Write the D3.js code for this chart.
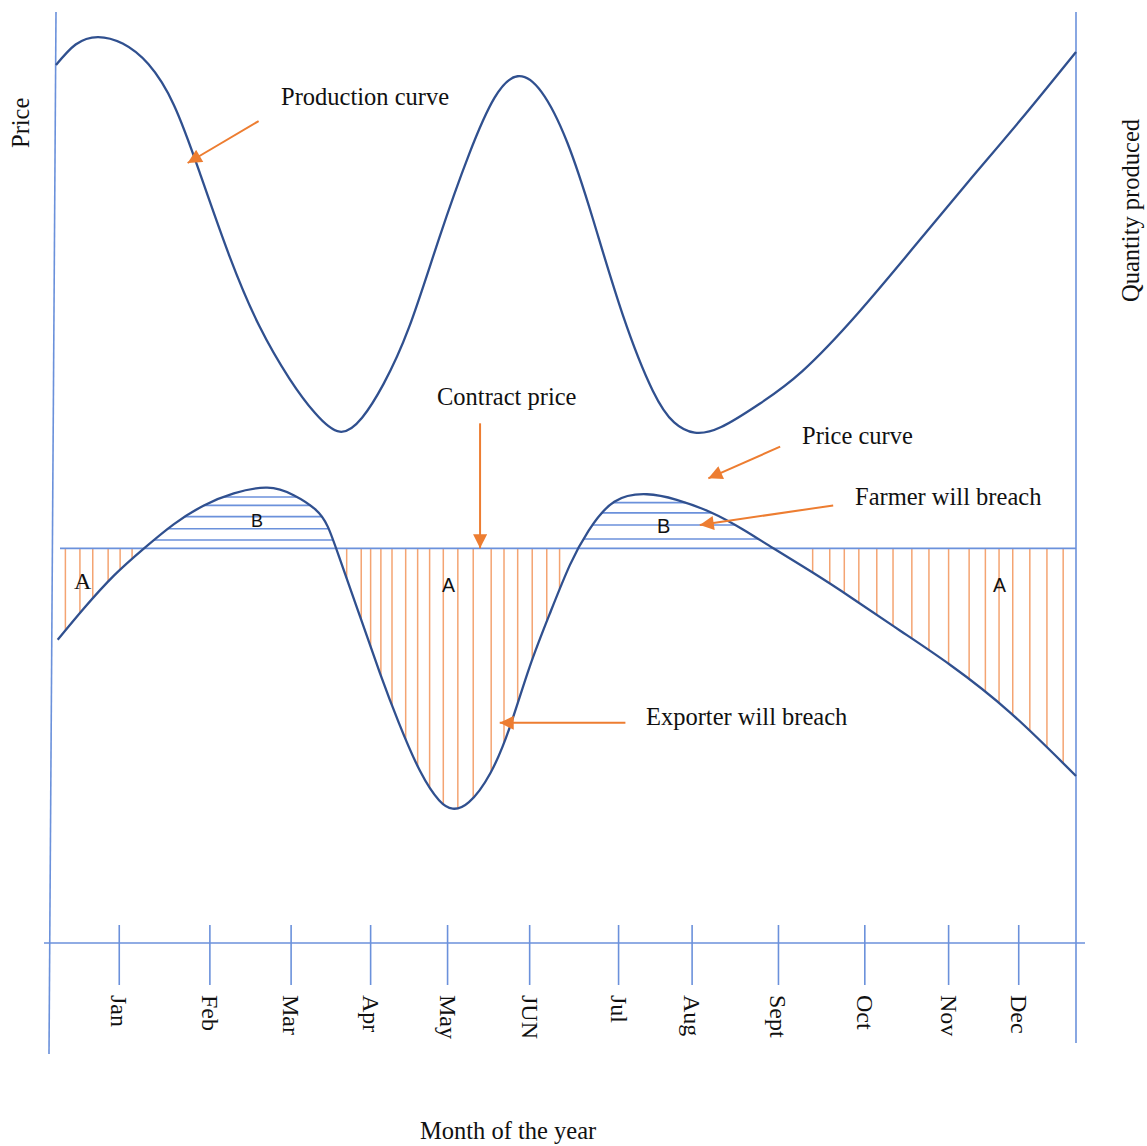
<!DOCTYPE html>
<html>
<head>
<meta charset="utf-8">
<script src="https://cdn.jsdelivr.net/npm/d3@7/dist/d3.min.js"></script>
<style>
  html, body { margin: 0; padding: 0; background: #fff; }
  svg { display: block; }
  .serif { font-family: "Liberation Serif", "DejaVu Serif", serif; fill: #111; }
  .sans { font-family: "Liberation Sans", "DejaVu Sans", sans-serif; fill: #111; }
</style>
</head>
<body>
<svg id="chart" width="1147" height="1146"></svg>
<script>
// ---------------- DATA ----------------
const months = ["Jan", "Feb", "Mar", "Apr", "May", "JUN", "Jul", "Aug", "Sept", "Oct", "Nov", "Dec"];
const monthPos = [0.81, 1.87, 2.82, 3.75, 4.65, 5.61, 6.65, 7.51, 8.52, 9.53, 10.51, 11.33];

// Production curve (quantity produced, right axis)
const prodX = [0.07, 0.30, 0.56, 0.85, 1.15, 1.45, 1.75, 2.10, 2.45, 2.80, 3.10, 3.39, 3.65, 3.90, 4.20, 4.55, 4.90, 5.20, 5.47, 5.75, 6.05, 6.35, 6.70, 7.05, 7.30, 7.54, 7.85, 8.30, 8.80, 9.45, 10.15, 10.75, 11.35, 12.0];
const prodY = [94.1, 96.3, 97.1, 96.4, 94.2, 89.8, 82.6, 73.6, 66.1, 60.5, 56.8, 54.8, 56.3, 59.9, 66.0, 75.5, 84.5, 90.6, 92.9, 91.2, 85.8, 77.6, 67.3, 59.2, 55.8, 54.7, 55.3, 57.8, 61.3, 67.5, 75.1, 81.7, 88.2, 95.5];

// Price curve (left axis)
const priceX = [0.09, 0.40, 0.75, 1.10, 1.45, 1.80, 2.15, 2.54, 2.85, 3.10, 3.25, 3.40, 3.63, 3.86, 4.08, 4.33, 4.55, 4.71, 4.90, 5.15, 5.38, 5.61, 5.85, 6.08, 6.30, 6.60, 6.98, 7.33, 7.72, 8.11, 8.46, 8.92, 9.39, 9.94, 10.53, 11.23, 12.0];
const priceY = [32.5, 35.9, 39.4, 42.3, 44.9, 46.9, 48.2, 48.8, 48.0, 46.5, 44.6, 40.9, 34.9, 28.9, 23.6, 18.4, 15.3, 14.4, 15.1, 18.2, 23.2, 29.6, 35.4, 40.5, 44.2, 47.3, 48.1, 47.5, 46.2, 44.3, 42.3, 39.7, 36.9, 33.5, 29.8, 24.7, 17.9];

const contractPrice = 42.3;

// Region A (exporter will breach): vertical hatch positions
const hatchA = [0.18, 0.35, 0.50, 0.68, 0.82, 0.96,
  3.47, 3.64, 3.75, 3.87, 4.00, 4.16, 4.30, 4.44, 4.60, 4.77, 4.95, 5.16, 5.31, 5.47, 5.64, 5.81, 5.96,
  8.92, 9.12, 9.29, 9.46, 9.67, 9.86, 10.08, 10.28, 10.51, 10.75, 10.94, 11.10, 11.26, 11.46, 11.66, 11.85];

// Region B (farmer will breach): horizontal hatch price levels, per hump
const hatchB1 = [47.8, 46.9, 45.7, 44.4, 43.2];
const hatchB2 = [47.2, 46.1, 44.8, 43.3];
const humpB1 = [1.0, 3.4];
const humpB2 = [6.1, 8.5];

// ---------------- LAYOUT ----------------
const svg = d3.select("#chart");
const x = d3.scaleLinear().domain([0, 12]).range([50, 1076]);
const yPrice = d3.scaleLinear().domain([0, 100]).range([943, 10]);
const yQty = d3.scaleLinear().domain([0, 100]).range([943, 10]);

const AXIS = "#6b91db";
const CURVE = "#30508f";
const ORANGE = "#ed7d31";
const HATCH = "#f4a472";

// Arrow marker
svg.append("defs").append("marker")
  .attr("id", "arrow")
  .attr("markerUnits", "userSpaceOnUse")
  .attr("viewBox", "0 0 10 10")
  .attr("refX", 10).attr("refY", 5)
  .attr("markerWidth", 16).attr("markerHeight", 14)
  .attr("orient", "auto")
  .append("path").attr("d", "M0,0 L10,5 L0,10 Z").attr("fill", ORANGE);

// Axes frame lines
const gAx = svg.append("g").attr("stroke", AXIS).attr("stroke-width", 1.6);
gAx.append("line").attr("x1", 56).attr("y1", 12).attr("x2", 49).attr("y2", 1054);
gAx.append("line").attr("x1", 1076).attr("y1", 12).attr("x2", 1076).attr("y2", 1043);
gAx.append("line").attr("x1", 44).attr("y1", yPrice(0)).attr("x2", 1085).attr("y2", yPrice(0));

// Month ticks + labels
const gM = svg.append("g");
gM.selectAll("line.tick").data(monthPos).join("line")
  .attr("class", "tick")
  .attr("x1", d => x(d)).attr("x2", d => x(d))
  .attr("y1", 925).attr("y2", 985)
  .attr("stroke", AXIS).attr("stroke-width", 1.6);
gM.selectAll("text").data(months).join("text")
  .attr("class", "serif")
  .attr("font-size", 24)
  .attr("transform", (d, i) => `translate(${x(monthPos[i]) - 8},995) rotate(90)`)
  .attr("text-anchor", "start")
  .text(d => d);

// Hatch group (below curves)
const gHatch = svg.append("g");

// Contract price line
svg.append("line")
  .attr("x1", 60).attr("x2", x(12))
  .attr("y1", yPrice(contractPrice)).attr("y2", yPrice(contractPrice))
  .attr("stroke", AXIS).attr("stroke-width", 1.6);

// Curves
const lineGen = (xs, ys, yS) => d3.line()
  .x(i => x(xs[i])).y(i => yS(ys[i]))
  .curve(d3.curveNatural)(d3.range(xs.length));

svg.append("path")
  .attr("d", lineGen(prodX, prodY, yQty))
  .attr("fill", "none").attr("stroke", CURVE).attr("stroke-width", 2.3);

const pricePath = svg.append("path")
  .attr("d", lineGen(priceX, priceY, yPrice))
  .attr("fill", "none").attr("stroke", CURVE).attr("stroke-width", 2.3);

// Sample price path
const pn = pricePath.node();
const L = pn.getTotalLength();
const samples = [];
for (let s = 0; s <= L; s += 0.5) { const p = pn.getPointAtLength(s); samples.push([p.x, p.y]); }
function priceAtPx(px) {
  for (let i = 0; i < samples.length - 1; i++) {
    const a = samples[i], b = samples[i + 1];
    if ((a[0] <= px && b[0] >= px) || (a[0] >= px && b[0] <= px)) {
      const t = b[0] === a[0] ? 0 : (px - a[0]) / (b[0] - a[0]);
      return a[1] + t * (b[1] - a[1]);
    }
  }
  return yPrice(contractPrice);
}
function crossings(py, x0, x1) {
  const out = [];
  for (let i = 0; i < samples.length - 1; i++) {
    const a = samples[i], b = samples[i + 1];
    if (a[0] < x0 || a[0] > x1) continue;
    if ((a[1] - py) * (b[1] - py) <= 0 && a[1] !== b[1]) {
      const t = (py - a[1]) / (b[1] - a[1]);
      out.push(a[0] + t * (b[0] - a[0]));
    }
  }
  return out;
}

// Vertical hatch (A)
const yc = yPrice(contractPrice);
gHatch.selectAll("line.va").data(hatchA).join("line")
  .attr("class", "va")
  .attr("x1", d => x(d)).attr("x2", d => x(d))
  .attr("y1", yc).attr("y2", d => priceAtPx(x(d)))
  .attr("stroke", HATCH).attr("stroke-width", 1.5);

// Horizontal hatch (B)
function hbars(levels, hump, cls) {
  const rows = levels.map(lv => {
    const py = yPrice(lv);
    const c = crossings(py, x(hump[0]), x(hump[1]));
    return { py, x0: c.length ? d3.min(c) : x(hump[0]), x1: c.length ? d3.max(c) : x(hump[0]) };
  });
  gHatch.selectAll("line." + cls).data(rows).join("line")
    .attr("class", cls)
    .attr("x1", d => d.x0).attr("x2", d => d.x1)
    .attr("y1", d => d.py).attr("y2", d => d.py)
    .attr("stroke", AXIS).attr("stroke-width", 1.6);
}
hbars(hatchB1, humpB1, "hb1");
hbars(hatchB2, humpB2, "hb2");

// Arrows (data coordinates)
const arrows = [
  [2.44, 88.1, 1.61, 83.6],
  [5.03, 55.7, 5.03, 42.3],
  [8.54, 53.2, 7.70, 49.8],
  [9.16, 46.9, 7.60, 44.8],
  [6.73, 23.6, 5.26, 23.6]
];
svg.append("g").selectAll("line").data(arrows).join("line")
  .attr("x1", d => x(d[0])).attr("y1", d => yPrice(d[1]))
  .attr("x2", d => x(d[2])).attr("y2", d => yPrice(d[3]))
  .attr("stroke", ORANGE).attr("stroke-width", 2)
  .attr("marker-end", "url(#arrow)");

// Text annotations
const notes = [
  { t: "Production curve", x: 281, y: 105, cls: "serif", fs: 24.5 },
  { t: "Contract price", x: 437, y: 405, cls: "serif", fs: 24.5 },
  { t: "Price curve", x: 802, y: 444, cls: "serif", fs: 24.5 },
  { t: "Farmer will breach", x: 855, y: 505, cls: "serif", fs: 24.5 },
  { t: "Exporter will breach", x: 646, y: 725, cls: "serif", fs: 24.5 },
  { t: "A", x: 74, y: 589, cls: "serif", fs: 24 },
  { t: "A", x: 442, y: 592, cls: "sans", fs: 19.5 },
  { t: "A", x: 993, y: 592, cls: "sans", fs: 19.5 },
  { t: "B", x: 251, y: 527, cls: "sans", fs: 18 },
  { t: "B", x: 657, y: 533, cls: "sans", fs: 20 },
  { t: "Month of the year", x: 420, y: 1139, cls: "serif", fs: 24.5 }
];
svg.append("g").selectAll("text").data(notes).join("text")
  .attr("class", d => d.cls)
  .attr("x", d => d.x).attr("y", d => d.y)
  .attr("font-size", d => d.fs)
  .text(d => d.t);

// Rotated axis titles
svg.append("text").attr("class", "serif").attr("font-size", 24.5)
  .attr("transform", "translate(29,148) rotate(-90)").text("Price");
svg.append("text").attr("class", "serif").attr("font-size", 24.5)
  .attr("transform", "translate(1139,302) rotate(-90)").text("Quantity produced");
</script>
</body>
</html>
